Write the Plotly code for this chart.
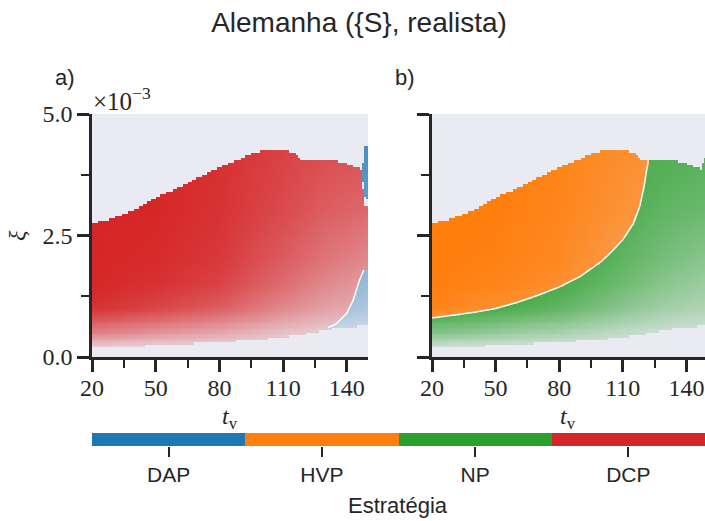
import numpy as np
import plotly.graph_objects as go

# ---------------- data ----------------
STRATEGIES = ["DAP", "HVP", "NP", "DCP"]
STRATEGY_COLORS = ["#1f77b4", "#ff7f0e", "#2ca02c", "#d62728"]

X_TICKS = [20, 50, 80, 110, 140]
Y_TICKS = [0.0, 2.5, 5.0]
Y_TICK_TEXT = ["0.0", "2.5", "5.0"]

# outer edges of the coloured region (xi in units of 1e-3)
T_EDGE = [20, 30, 40, 50, 60, 70, 80, 90, 96, 104, 110, 115, 119, 125, 132, 137, 143, 147, 148, 150]
XI_UPPER_A = [2.74, 2.85, 3.03, 3.28, 3.47, 3.69, 3.90, 4.08, 4.20, 4.26, 4.26, 4.20, 4.05, 4.05, 4.05, 4.02, 3.93, 3.85, 3.10, 3.10]
XI_UPPER_B = [2.74, 2.85, 3.03, 3.28, 3.47, 3.69, 3.90, 4.08, 4.20, 4.26, 4.26, 4.20, 4.05, 4.05, 4.05, 4.02, 3.93, 3.85, 4.12, 4.12]
XI_LOWER = [0.20, 0.21, 0.22, 0.23, 0.25, 0.28, 0.30, 0.33, 0.35, 0.38, 0.41, 0.44, 0.46, 0.51, 0.57, 0.60, 0.62, 0.63, 0.63, 0.64]

# panel b: HVP above / NP below this boundary
T_SPLIT = [20, 30, 40, 50, 60, 70, 80, 90, 100, 105, 110, 115, 118, 120, 121, 122]
XI_SPLIT = [0.80, 0.86, 0.92, 1.00, 1.12, 1.27, 1.44, 1.66, 1.97, 2.18, 2.41, 2.75, 3.10, 3.50, 3.75, 4.05]

# panel a: DAP zones
T_DAP_LOW = [131, 135, 140, 143, 146, 148, 150]
XI_DAP_LOW = [0.60, 0.68, 0.90, 1.17, 1.58, 1.79, 1.79]
T_DAP_HIGH = [147, 148, 149]
XI_DAP_HIGH_BOT = [3.60, 3.30, 3.25]
XI_DAP_HIGH_TOP = [4.00, 4.33, 4.33]

# shading strength (opacity) of the strategy colour
ALPHA_T = [20, 50, 80, 110, 130, 150]
ALPHA_XI = [0.2, 0.5, 1.0, 1.5, 2.0, 3.0, 4.5]
ALPHA = [
    [0.15, 0.12, 0.10, 0.08, 0.05, 0.05],
    [0.55, 0.45, 0.35, 0.22, 0.15, 0.12],
    [0.95, 0.85, 0.72, 0.50, 0.38, 0.30],
    [1.00, 0.95, 0.86, 0.65, 0.50, 0.40],
    [1.00, 0.98, 0.91, 0.73, 0.60, 0.50],
    [1.00, 1.00, 0.94, 0.82, 0.72, 0.66],
    [1.00, 1.00, 0.96, 0.87, 0.82, 0.80],
]

# ---------------- raster of the map ----------------
t_c = np.arange(20.5, 150.0, 1.0)
xi_c = np.arange(0.025, 5.0, 0.05)
TT, XX = np.meshgrid(t_c, xi_c)

A1 = np.array([np.interp(t_c, ALPHA_T, row) for row in ALPHA])
alpha = np.array([np.interp(xi_c, ALPHA_XI, A1[:, j]) for j in range(len(t_c))]).T

low = np.interp(t_c, T_EDGE, XI_LOWER)
up_a = np.interp(t_c, T_EDGE, XI_UPPER_A)
up_b = np.interp(t_c, T_EDGE, XI_UPPER_B)
split = np.interp(t_c, T_SPLIT, XI_SPLIT, right=99.0)
dap_low_top = np.interp(t_c, T_DAP_LOW, XI_DAP_LOW, left=-1.0)

region_a = (XX >= low) & (XX <= up_a)
dap_low = region_a & (XX <= dap_low_top)
dap_high = np.zeros_like(region_a)
for tk, lo, hi in zip(T_DAP_HIGH, XI_DAP_HIGH_BOT, XI_DAP_HIGH_TOP):
    col = np.floor(t_c) == tk
    dap_high |= (col[None, :] & (XX >= lo) & (XX <= hi))
dcp = region_a & ~dap_low
dap = dap_low | dap_high

region_b = (XX >= low) & (XX <= up_b)
hvp = region_b & (XX > split)
np_ = region_b & (XX <= split)

BG = "#eaeaf2"
INK = "#262626"
SERIF = "Liberation Serif, DejaVu Serif, serif"
SANS = "Liberation Sans, Arial, sans-serif"

fig = go.Figure()


def add_map(mask, color, xa, ya):
    z = np.where(mask, alpha, np.nan)
    fig.add_trace(go.Heatmap(
        x=t_c, y=xi_c, z=z, zmin=0, zmax=1,
        colorscale=[[0, BG], [1, color]], showscale=False,
        hoverinfo="skip", xaxis=xa, yaxis=ya,
    ))


add_map(dcp, STRATEGY_COLORS[3], "x", "y")
add_map(dap, STRATEGY_COLORS[0], "x", "y")
add_map(hvp, STRATEGY_COLORS[1], "x2", "y2")
add_map(np_, STRATEGY_COLORS[2], "x2", "y2")

# thin light borders between strategy zones
fig.add_trace(go.Scatter(x=T_DAP_LOW[:-1], y=XI_DAP_LOW[:-1], mode="lines",
                         line=dict(color="white", width=1.5), hoverinfo="skip",
                         showlegend=False, xaxis="x", yaxis="y"))
fig.add_trace(go.Scatter(x=T_SPLIT, y=XI_SPLIT, mode="lines",
                         line=dict(color="white", width=1.5), hoverinfo="skip",
                         showlegend=False, xaxis="x2", yaxis="y2"))

# strategy colour bar
fig.add_trace(go.Heatmap(
    x=list(range(len(STRATEGIES))), y=[0], z=[list(range(len(STRATEGIES)))],
    zmin=0, zmax=3,
    colorscale=[[0, STRATEGY_COLORS[0]], [1 / 6, STRATEGY_COLORS[0]],
                [1 / 6, STRATEGY_COLORS[1]], [0.5, STRATEGY_COLORS[1]],
                [0.5, STRATEGY_COLORS[2]], [5 / 6, STRATEGY_COLORS[2]],
                [5 / 6, STRATEGY_COLORS[3]], [1, STRATEGY_COLORS[3]]],
    showscale=False, hoverinfo="skip", xaxis="x3", yaxis="y3",
))

W, H = 705, 521
ydom = [1 - 357 / H, 1 - 114 / H]

xcommon = dict(
    tickvals=X_TICKS, ticks="outside", ticklen=12, tickwidth=2.5, tickcolor=INK,
    showline=True, linecolor=INK, linewidth=2.5, showgrid=False, zeroline=False,
    automargin=False, ticklabelstandoff=-5,
    minor=dict(tick0=20, dtick=15, ticks="outside", ticklen=8, tickwidth=2, tickcolor=INK),
    tickfont=dict(family=SERIF, size=24, color=INK),
)
ycommon = dict(
    range=[0, 5], tickvals=Y_TICKS, ticks="outside", ticklen=12, tickwidth=2.5, tickcolor=INK,
    showline=True, linecolor=INK, linewidth=2.5, showgrid=False, zeroline=False,
    automargin=False,
    minor=dict(tick0=0, dtick=1.25, ticks="outside", ticklen=8, tickwidth=2, tickcolor=INK),
    tickfont=dict(family=SERIF, size=24, color=INK), domain=ydom,
)

fig.update_layout(
    width=W, height=H, margin=dict(l=0, r=0, t=0, b=0, pad=0, autoexpand=False),
    paper_bgcolor="white", plot_bgcolor=BG, showlegend=False,
    xaxis=dict(domain=[92 / W, 368 / W], range=[20, 150], anchor="y", **xcommon),
    yaxis=dict(anchor="x", ticktext=Y_TICK_TEXT, **ycommon),
    xaxis2=dict(domain=[432 / W, 1.0], range=[20, 20 + (705 - 432) / 2.12], anchor="y2", **xcommon),
    yaxis2=dict(anchor="x2", showticklabels=False, **ycommon),
    xaxis3=dict(domain=[92 / W, 1.0], range=[-0.5, 3.5], anchor="y3", automargin=False,
                tickvals=list(range(4)), ticktext=STRATEGIES, ticks="outside",
                ticklen=10, tickwidth=1.5, tickcolor=INK, showline=False, showgrid=False,
                zeroline=False, tickfont=dict(family=SANS, size=21, color=INK)),
    yaxis3=dict(domain=[1 - 446 / H, 1 - 433 / H], range=[-0.5, 0.5], visible=False,
                anchor="x3", automargin=False),
    title=dict(text="Alemanha ({S}, realista)", x=359 / W, xanchor="center",
               y=1 - 22 / H, yanchor="middle", automargin=False,
               font=dict(family=SANS, size=28, color=INK)),
)

ann = [
    dict(text="a)", x=65 / W, y=1 - 77 / H, font=dict(family=SANS, size=22, color=INK)),
    dict(text="b)", x=405 / W, y=1 - 77 / H, font=dict(family=SANS, size=22, color=INK)),
    dict(text="×10<sup>−3</sup>", x=122 / W, y=1 - 99 / H, font=dict(family=SERIF, size=25, color=INK)),
    dict(text="<i>ξ</i>", x=17 / W, y=1 - 236 / H, textangle=-90, font=dict(family=SERIF, size=24, color=INK)),
    dict(text="<i>t</i><sub>v</sub>", x=230 / W, y=1 - 418 / H, font=dict(family=SERIF, size=24, color=INK)),
    dict(text="<i>t</i><sub>v</sub>", x=568 / W, y=1 - 418 / H, font=dict(family=SERIF, size=24, color=INK)),
    dict(text="Estratégia", x=398 / W, y=1 - 505 / H, font=dict(family=SANS, size=22, color=INK)),
]
for a in ann:
    fig.add_annotation(xref="paper", yref="paper", showarrow=False,
                       xanchor="center", yanchor="middle", **a)

fig.write_html("out.html")
